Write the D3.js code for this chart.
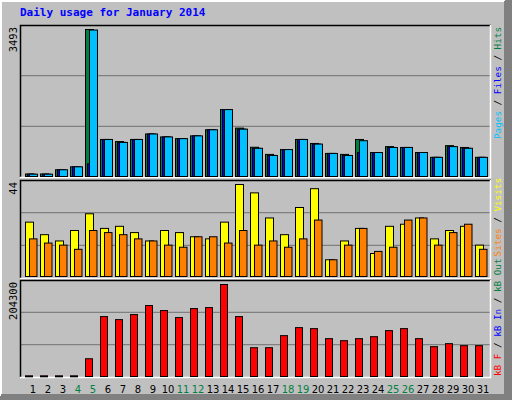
<!DOCTYPE html>
<html><head><meta charset="utf-8">
<script src="https://cdn.jsdelivr.net/npm/d3@7"></script>
<style>body{margin:0;background:#fff}</style></head>
<body><svg id="c" width="512" height="400"></svg>
<script>
const days = d3.range(1,32);
const weekend = [4,5,11,12,18,19,25,26];
const hits  = [60,60,160,230,3493,880,830,880,1010,940,900,965,1110,1590,1150,695,525,640,880,785,548,525,880,570,710,690,570,455,733,690,455];
const files = [55,55,160,230,300,880,810,880,1010,940,900,965,1110,1590,1125,670,500,640,880,770,548,500,570,570,690,690,570,455,710,670,455];
const pages = [55,55,160,230,3480,880,810,880,1010,940,900,965,1110,1590,1125,670,500,640,880,770,548,500,850,570,690,690,570,455,710,670,455];
const visits = [26,20,17,22,30,23,24,21,17,22,21,19,18,26,44,40,28,20,33,42,8,17,23,11,24,25,28,18,22,24,15];
const sites  = [18,16,15,13,22,21,20,18,17,15,14,19,19,16,22,15,17,14,18,27,8,15,23,12,14,27,28,15,21,25,13];
const kbytes = [1500,1500,1500,1500,39400,133000,126300,137500,157500,146400,130800,150800,153000,204300,133000,63900,63900,90700,108500,106300,84000,79500,84000,88400,101800,106300,84000,66200,72900,68400,68400];

const svg = d3.select("#c");
const mono = "DejaVu Sans Mono, monospace";
svg.append("rect").attr("width",512).attr("height",400).attr("fill","#c0c0c0");
svg.append("path").attr("d","M1,399V1H511").attr("stroke","#fff").attr("stroke-width",2).attr("fill","none");
svg.append("path").attr("d","M1,398H508V1").attr("stroke","#808080").attr("stroke-width",8).attr("fill","none").attr("transform","translate(0,0)");
svg.append("rect").attr("x",505).attr("y",0).attr("width",7).attr("height",400).attr("fill","#808080");
svg.append("rect").attr("x",0).attr("y",396).attr("width",512).attr("height",4).attr("fill","#808080");
svg.append("text").attr("x",20).attr("y",16).attr("font-family",mono).attr("font-weight","bold").attr("font-size",11).attr("fill","#0000ff").text("Daily usage for January 2014");

const x = d3.scaleBand().domain(days).range([20,485]).paddingInner(0);
const x0 = d => 25 + (d-1)*15;

function panel(top,bottom){
  const g = svg.append("g");
  g.append("rect").attr("x",20).attr("y",top).attr("width",471).attr("height",bottom-top).attr("fill","#c0c0c0");
  const h=(bottom-top)/3;
  [1,2].forEach(i=>g.append("line").attr("x1",21).attr("x2",490).attr("y1",top+h*i).attr("y2",top+h*i).attr("stroke","#808080").attr("stroke-width",1.3));
  g.append("path").attr("d",`M20.5,${bottom}V${top+0.5}H491`).attr("stroke","#000").attr("stroke-width",1.5).attr("fill","none");
  g.append("path").attr("d",`M20,${bottom+0.5}H490.5V${top}`).attr("stroke","#fff").attr("stroke-width",1.5).attr("fill","none");
  return g;
}
function bars(g,data,y,color,off,w){
  g.selectAll(null).data(data).enter().append("rect")
   .attr("x",(v,i)=>x0(i+1)+off+0.5).attr("y",v=>y(v)+0.5)
   .attr("width",w).attr("height",v=>Math.max(1,y(0)-y(v)))
   .attr("fill",color).attr("stroke","#000").attr("stroke-width",1);
}
function rlabel(parts,xp,yp,anchor){
  const t=svg.append("text").attr("transform",`translate(${xp},${yp}) rotate(-90)`).attr("font-family",mono).attr("font-size",9.3).attr("text-anchor",anchor);
  parts.forEach(p=>t.append("tspan").attr("fill",p[1]).text(p[0]));
}
function llabel(txt,yp){
  svg.append("text").attr("transform",`translate(17,${yp}) rotate(-90)`).attr("font-family",mono).attr("font-size",10.5).attr("text-anchor","end").attr("fill","#000").text(txt);
}

// panel 1
const g1=panel(25,177);
const y1=d3.scaleLinear().domain([0,3493]).range([176,29]);
bars(g1,hits,y1,"#008040",0,8);
bars(g1,files,y1,"#0000ff",2,8);
bars(g1,pages,y1,"#00c0ff",4,8);
llabel("3493",27);
rlabel([["Pages","#00c0ff"],[" / ","#000"],["Files","#0000ff"],[" / ","#000"],["Hits","#008040"]],501,27,"end");

// panel 2
const g2=panel(180,278);
const y2=d3.scaleLinear().domain([0,44]).range([276,184]);
bars(g2,visits,y2,"#ffff00",0,8);
bars(g2,sites,y2,"#ff8000",4,7.5);
llabel("44",182);
rlabel([["Sites","#ff8000"],[" / ","#000"],["Visits","#ffff00"]],501,178,"end");

// panel 3
const g3=panel(280,377);
const y3=d3.scaleLinear().domain([0,204300]).range([376,284]);
bars(g3,kbytes,y3,"#ff0000",0,7);
llabel("204300",282);
rlabel([["kB F","#ff0000"],[" / ","#000"],["kB In","#0000ff"],[" / ","#000"],["kB Out","#008040"]],501,376,"start");

// day labels
svg.selectAll(null).data(days).enter().append("text")
 .attr("x",d=>x0(d)+8).attr("y",393).attr("text-anchor","middle")
 .attr("font-family","DejaVu Sans, sans-serif").attr("font-size",10)
 .attr("fill",d=>weekend.includes(d)?"#008040":"#000").text(d=>d);
</script></body></html>
